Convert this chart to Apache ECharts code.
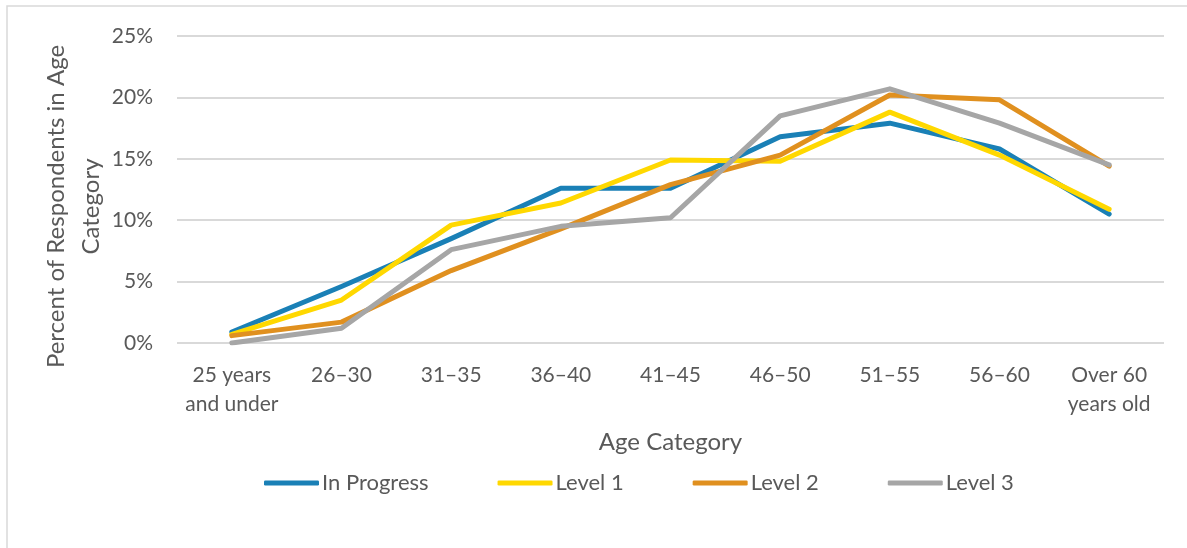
<!DOCTYPE html>
<html>
<head>
<meta charset="utf-8">
<script src="https://cdn.jsdelivr.net/npm/echarts@6/dist/echarts.min.js"></script>
<style>
  html, body { margin: 0; padding: 0; background: #ffffff; }
  #chart { width: 1187px; height: 548px; }
</style>
</head>
<body>
<div id="chart"></div>
<script>
// Share of respondents (%) in each age band, by certification level
const ageCategories = ['25 years\nand under', '26–30', '31–35', '36–40', '41–45', '46–50', '51–55', '56–60', 'Over 60\nyears old'];
const inProgress = [0.9, 4.6, 8.5, 12.6, 12.6, 16.8, 17.9, 15.8, 10.5];
const level1     = [0.7, 3.5, 9.6, 11.4, 14.9, 14.8, 18.8, 15.3, 10.9];
const level2     = [0.6, 1.7, 5.9, 9.3, 12.9, 15.3, 20.2, 19.8, 14.4];
const level3     = [0.0, 1.2, 7.6, 9.5, 10.2, 18.5, 20.7, 17.9, 14.5];
const seriesNames = ['In Progress', 'Level 1', 'Level 2', 'Level 3'];
const seriesValues = [inProgress, level1, level2, level3];
const seriesColors = ['#1a80b6', '#ffd800', '#e0901f', '#a6a6a6'];

const FONT = 'Lato, "Open Sans", sans-serif';
const TEXT = '#595959';

const chart = echarts.init(document.getElementById('chart'), null, { renderer: 'canvas' });

chart.setOption({
  backgroundColor: '#ffffff',
  animation: false,
  textStyle: { fontFamily: FONT, color: TEXT },
  graphic: [{
    type: 'rect',
    silent: true,
    shape: { x: 7, y: 6, width: 1300, height: 700 },
    style: { fill: 'none', stroke: '#d9d9d9', lineWidth: 1.5 }
  }],
  grid: { left: 177, right: 23, top: 36, bottom: 205, containLabel: false },
  legend: {
    data: seriesNames,
    left: 259,
    top: 467,
    icon: 'roundRect',
    itemWidth: 55,
    itemHeight: 5,
    itemGap: 69,
    textStyle: { fontFamily: FONT, fontSize: 22, color: TEXT, padding: [0, 0, 0, -2] }
  },
  xAxis: {
    type: 'category',
    data: ageCategories,
    boundaryGap: true,
    name: 'Age Category',
    nameLocation: 'middle',
    nameGap: 87,
    nameMoveOverlap: false,
    nameTextStyle: { fontFamily: FONT, fontSize: 24, color: TEXT },
    axisLine: { show: false },
    axisTick: { show: false },
    axisLabel: {
      interval: 0,
      margin: 18,
      fontFamily: FONT,
      fontSize: 21,
      color: TEXT,
      lineHeight: 29
    }
  },
  yAxis: {
    type: 'value',
    min: 0,
    max: 25,
    interval: 5,
    name: 'Percent of Respondents in Age\nCategory',
    nameLocation: 'middle',
    nameRotate: 90,
    nameGap: 68,
    nameMoveOverlap: false,
    nameTextStyle: { fontFamily: FONT, fontSize: 24, color: TEXT, lineHeight: 35, padding: [0, 34, 0, 0] },
    axisLine: { show: false },
    axisTick: { show: false },
    axisLabel: {
      formatter: '{value}%',
      margin: 24,
      fontFamily: FONT,
      fontSize: 21,
      color: TEXT
    },
    splitLine: { lineStyle: { color: '#d9d9d9', width: 2 } }
  },
  series: seriesNames.map((name, i) => ({
    name: name,
    type: 'line',
    data: seriesValues[i],
    symbol: 'none',
    smooth: false,
    color: seriesColors[i],
    lineStyle: { width: 5, color: seriesColors[i], cap: 'round', join: 'round' },
    emphasis: { disabled: true }
  }))
});
</script>
</body>
</html>
